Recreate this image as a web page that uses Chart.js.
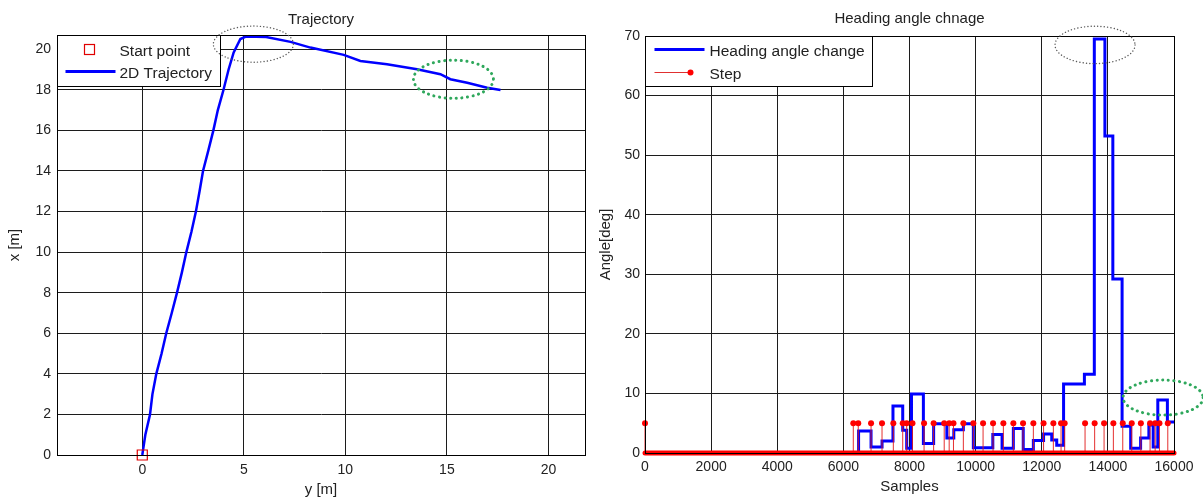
<!DOCTYPE html>
<html><head><meta charset="utf-8">
<script src="https://cdn.jsdelivr.net/npm/chart.js@4.4.0/dist/chart.umd.min.js"></script>
<style>
html,body{margin:0;padding:0;background:#fff;}
#wrap{position:relative;width:1203px;height:502px;overflow:hidden;background:#fff;}
#c1{position:absolute;left:0;top:0;}
#c2{position:absolute;left:595px;top:0;}
</style></head><body>
<div id="wrap"><canvas id="c1" width="595" height="502"></canvas><canvas id="c2" width="608" height="502"></canvas></div>
<script>
// ---------- data: left chart (Trajectory) ----------
const trajY = [0, 0.15, 0.38, 0.5, 0.69, 0.95, 1.18, 1.45, 1.71, 1.95, 2.17, 2.42, 2.64, 2.82, 2.99, 3.25, 3.5, 3.72, 4.0, 4.25, 4.5, 4.83, 5.1, 6.1, 7.3, 8.28, 9.92, 10.74, 12.05, 13.53, 14.68, 15.17, 16.0, 16.98, 17.64];
const trajX = [0, 1.0, 2.0, 3.0, 4.0, 5.0, 6.0, 7.0, 8.0, 9.0, 10.0, 11.0, 12.0, 13.0, 14.0, 15.0, 16.0, 17.0, 18.0, 19.0, 19.84, 20.5, 20.62, 20.6, 20.36, 20.08, 19.72, 19.42, 19.26, 19.01, 18.77, 18.52, 18.35, 18.1, 17.99];
const startPointY = [0];
const startPointX = [0];
const trajHTicks = [0, 5, 10, 15, 20];
const trajVTicks = [0, 2, 4, 6, 8, 10, 12, 14, 16, 18, 20];

// ---------- data: right chart (Heading angle) ----------
const headingSamples = [0, 6460, 6837, 7170, 7500, 7795, 7915, 8060, 8420, 8730, 9130, 9340, 9629, 9931, 10520, 10800, 11141, 11440, 11746, 12055, 12302, 12453, 12660, 13290, 13590, 13910, 14150, 14430, 14690, 14990, 15240, 15370, 15510, 15800, 16000];
const headingAngles  = [0, 3.7, 1.0, 2.0, 7.9, 3.8, 0.8, 9.9, 1.6, 4.9, 2.5, 3.9, 4.9, 0.9, 3.1, 0.8, 4.1, 0.6, 2.1, 3.2, 2.2, 1.3, 11.6, 13.2, 69.5, 53.2, 29.2, 4.5, 0.8, 2.5, 4.7, 1.0, 8.9, 5.2, 5.2];
const stepSamples = [0, 6300, 6450, 6837, 7169, 7511, 7795, 7915, 8090, 8440, 8730, 9050, 9200, 9330, 9629, 9931, 10225, 10527, 10839, 11141, 11434, 11746, 12055, 12351, 12584, 12693, 13310, 13600, 13885, 14166, 14450, 14722, 14998, 15276, 15430, 15560, 15812];
const stepLevel = 5;
const sampleTicks = [0, 2000, 4000, 6000, 8000, 10000, 12000, 14000, 16000];
const angleTicks = [0, 10, 20, 30, 40, 50, 60, 70];

// highlight ellipses (data units: centre x, centre y, radius x, radius y)
const leftHighlights = [[5.47, 20.25, 1.97, 0.89, 'gray'], [15.32, 18.52, 1.97, 0.94, 'green']];
const rightHighlights = [[13612, 68.5, 1210, 3.14, 'gray'], [15670, 9.3, 1210, 2.94, 'green']];

Chart.defaults.font.family = "'Liberation Sans', Arial, Helvetica, sans-serif";
Chart.defaults.color = '#222';
Chart.defaults.devicePixelRatio = 1;

const GRID = '#1c1c1c';

const framePlugin = {
  id: 'frame',
  afterDatasetsDraw(chart) {
    const a = chart.chartArea, ctx = chart.ctx;
    ctx.save();
    ctx.strokeStyle = '#000';
    ctx.lineWidth = 1;
    ctx.strokeRect(Math.round(a.left) + 0.5, Math.round(a.top) + 0.5, Math.round(a.right - a.left), Math.round(a.bottom - a.top));
    ctx.restore();
  }
};

function legendPlugin(cfg) {
  return {
    id: 'customLegend',
    afterDatasetsDraw(chart) {
      const a = chart.chartArea, ctx = chart.ctx;
      const x0 = Math.round(a.left) + 0.5, y0 = Math.round(a.top) + 0.5;
      ctx.save();
      ctx.fillStyle = '#fff';
      ctx.fillRect(x0, y0, cfg.w, cfg.h);
      ctx.strokeStyle = '#000';
      ctx.lineWidth = 1;
      ctx.strokeRect(x0, y0, cfg.w, cfg.h);
      ctx.font = cfg.font;
      ctx.fillStyle = '#222';
      ctx.textBaseline = 'middle';
      ctx.textAlign = 'left';
      cfg.items.forEach(it => {
        const yy = y0 + it.y;
        if (it.kind === 'rect') {
          ctx.strokeStyle = '#e00000';
          ctx.lineWidth = 1.2;
          ctx.strokeRect(x0 + it.mx - 5, yy - 5, 10, 10);
        } else if (it.kind === 'line') {
          ctx.strokeStyle = it.color;
          ctx.lineWidth = it.lw;
          ctx.beginPath(); ctx.moveTo(x0 + it.x1, yy); ctx.lineTo(x0 + it.x2, yy); ctx.stroke();
        } else if (it.kind === 'stem') {
          ctx.strokeStyle = it.color;
          ctx.lineWidth = 1;
          ctx.beginPath(); ctx.moveTo(x0 + it.x1, yy); ctx.lineTo(x0 + it.x2, yy); ctx.stroke();
          ctx.fillStyle = '#ff0000';
          ctx.beginPath(); ctx.arc(x0 + it.x2, yy, 3, 0, Math.PI * 2); ctx.fill();
        }
        ctx.fillStyle = '#222';
        ctx.fillText(it.label, x0 + cfg.tx, yy + it.ty);
      });
      ctx.restore();
    }
  };
}

function ellipsePlugin(list) {
  return {
    id: 'highlights',
    afterDraw(chart) {
      const xs = chart.scales.x, ys = chart.scales.y, ctx = chart.ctx;
      ctx.save();
      list.forEach(e => {
        const cx = xs.getPixelForValue(e[0]), cy = ys.getPixelForValue(e[1]);
        const rx = Math.abs(xs.getPixelForValue(e[0] + e[2]) - cx);
        const ry = Math.abs(ys.getPixelForValue(e[1] + e[3]) - cy);
        ctx.beginPath();
        ctx.ellipse(cx, cy, rx, ry, 0, 0, Math.PI * 2);
        ctx.lineCap = 'round';
        if (e[4] === 'green') {
          ctx.strokeStyle = '#2fa85c';
          ctx.lineWidth = 3;
          ctx.setLineDash([0.1, 5.5]);
        } else {
          ctx.strokeStyle = '#5a5a5a';
          ctx.lineWidth = 1.4;
          ctx.setLineDash([0.1, 3.2]);
        }
        ctx.stroke();
      });
      ctx.restore();
    }
  };
}

function ticksFrom(arr) { return s => { s.ticks = arr.map(v => ({ value: v })); }; }

// ---------- left chart ----------
new Chart(document.getElementById('c1'), {
  type: 'scatter',
  data: {
    datasets: [
      {
        label: 'Start point',
        data: startPointY.map((v, i) => ({ x: v, y: startPointX[i] })),
        pointStyle: 'rect', pointRadius: 7.1, pointBorderWidth: 1.2,
        pointBorderColor: '#e00000', pointBackgroundColor: 'rgba(0,0,0,0)',
        showLine: false, clip: false, order: 0
      },
      {
        label: '2D Trajectory',
        data: trajY.map((v, i) => ({ x: v, y: trajX[i] })),
        showLine: true, borderColor: '#0000ff', borderWidth: 2.5, pointRadius: 0,
        order: 1
      }
    ]
  },
  options: {
    responsive: false, animation: false, devicePixelRatio: 1,
    layout: { padding: { left: 0, right: 10, top: 0, bottom: 0 } },
    plugins: {
      legend: { display: false }, tooltip: { enabled: false },
      title: { display: true, text: 'Trajectory', fullSize: false, color: '#222',
        font: { size: 15, weight: 'normal' }, padding: { top: 11, bottom: 6 } }
    },
    scales: {
      x: {
        type: 'linear', min: -4.2, max: 21.8,
        afterBuildTicks: ticksFrom(trajHTicks),
        afterFit: s => { s.height = 47; },
        grid: { color: GRID, lineWidth: 1, drawTicks: false },
        border: { color: '#000', width: 1 },
        ticks: { padding: 7, font: { size: 14 }, color: '#222', maxRotation: 0, autoSkip: false, callback: v => String(v) },
        title: { display: true, text: 'y [m]', color: '#222', font: { size: 15 }, padding: { top: 0, bottom: 3 } }
      },
      y: {
        type: 'linear', min: 0, max: 20.7,
        afterBuildTicks: ticksFrom(trajVTicks),
        afterFit: s => { s.width = 57; },
        grid: { color: GRID, lineWidth: 1, drawTicks: false },
        border: { color: '#000', width: 1 },
        ticks: { padding: 6, font: { size: 14 }, color: '#222', autoSkip: false, callback: v => String(v) },
        title: { display: true, text: 'x [m]', color: '#222', font: { size: 15 }, padding: { top: 6, bottom: 0 } }
      }
    }
  },
  plugins: [framePlugin, legendPlugin({
    w: 163, h: 51, tx: 62, font: "15.5px 'Liberation Sans', Arial, sans-serif",
    items: [
      { kind: 'rect', mx: 32, y: 14, label: 'Start point', ty: 2 },
      { kind: 'line', x1: 8, x2: 58, y: 36, color: '#0000ff', lw: 3, label: '2D Trajectory', ty: 2 }
    ]
  }), ellipsePlugin(leftHighlights)]
});

// ---------- right chart ----------
new Chart(document.getElementById('c2'), {
  type: 'scatter',
  data: {
    datasets: [
      {
        label: 'Step baseline',
        data: [{ x: sampleTicks[0], y: 0 }, { x: sampleTicks[sampleTicks.length - 1], y: 0 }],
        showLine: true, borderColor: '#ff0000', borderWidth: 5, borderCapStyle: 'round',
        pointRadius: 0, clip: false, order: 0
      },
      {
        label: 'Step',
        data: stepSamples.flatMap(s => [{ x: s, y: 0 }, { x: s, y: stepLevel }, { x: s, y: null }]),
        showLine: true, spanGaps: false, borderColor: 'rgba(225,25,25,0.9)', borderWidth: 1,
        pointRadius: c => (c.raw && c.raw.y === stepLevel) ? 3 : 0,
        pointBackgroundColor: '#ff0000', pointBorderColor: '#ff0000', pointBorderWidth: 0,
        clip: false, order: 1
      },
      {
        label: 'Heading angle change',
        data: headingSamples.map((s, i) => ({ x: s, y: headingAngles[i] })),
        showLine: true, stepped: true, borderColor: '#0000ff', borderWidth: 3,
        pointRadius: 0, order: 2
      }
    ]
  },
  options: {
    responsive: false, animation: false, devicePixelRatio: 1,
    layout: { padding: { left: 0, right: 29, top: 0, bottom: 0 } },
    plugins: {
      legend: { display: false }, tooltip: { enabled: false },
      title: { display: true, text: 'Heading angle chnage', fullSize: false, color: '#222',
        font: { size: 15, weight: 'normal' }, padding: { top: 10, bottom: 8 } }
    },
    scales: {
      x: {
        type: 'linear', min: 0, max: 16000,
        afterBuildTicks: ticksFrom(sampleTicks),
        afterFit: s => { s.height = 49; },
        grid: { color: GRID, lineWidth: 1, drawTicks: false },
        border: { color: '#000', width: 1 },
        ticks: { padding: 6, font: { size: 14 }, color: '#222', maxRotation: 0, autoSkip: false, callback: v => String(v) },
        title: { display: true, text: 'Samples', color: '#222', font: { size: 15 }, padding: { top: 0, bottom: 6 } }
      },
      y: {
        type: 'linear', min: 0, max: 70,
        afterBuildTicks: ticksFrom(angleTicks),
        afterFit: s => { s.width = 50; },
        grid: { color: GRID, lineWidth: 1, drawTicks: false },
        border: { color: '#000', width: 1 },
        ticks: { padding: 5, font: { size: 14 }, color: '#222', autoSkip: false, callback: v => String(v) },
        title: { display: true, text: 'Angle[deg]', color: '#222', font: { size: 15 }, padding: { top: 2, bottom: 0 } }
      }
    }
  },
  plugins: [framePlugin, legendPlugin({
    w: 227, h: 50, tx: 64, font: "15.5px 'Liberation Sans', Arial, sans-serif",
    items: [
      { kind: 'line', x1: 9, x2: 59, y: 13, color: '#0000ff', lw: 3, label: 'Heading angle change', ty: 2 },
      { kind: 'stem', x1: 9, x2: 45, y: 36, color: '#e03030', label: 'Step', ty: 2 }
    ]
  }), ellipsePlugin(rightHighlights)]
});
</script>
</body></html>
